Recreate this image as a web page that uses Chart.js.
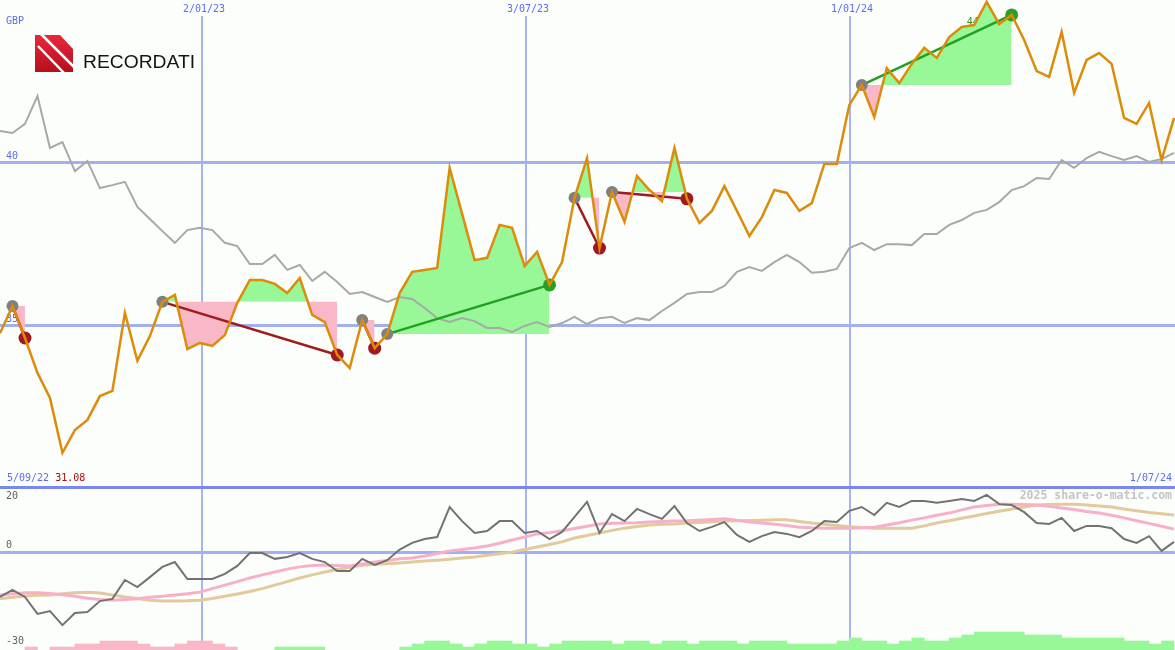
<!DOCTYPE html>
<html>
<head>
<meta charset="utf-8">
<script src="https://cdn.jsdelivr.net/npm/chart.js@4.4.1/dist/chart.umd.min.js"></script>
<style>
html, body { margin: 0; padding: 0; background: #fcfefc; }
#wrap { width: 1175px; height: 650px; }
</style>
</head>
<body>
<div id="wrap"><canvas id="chart" width="1175" height="650"></canvas></div>
<script>
// weekly closes (GBP), one point per week from 5/09/22
const price = [34.75,35.58,34.60,33.53,32.76,31.08,31.78,32.09,32.82,32.98,
  35.37,33.90,34.66,35.71,35.92,34.26,34.45,34.36,34.69,35.68,
  36.38,36.38,36.26,35.98,36.44,35.31,35.09,34.08,33.68,35.15,
  34.29,34.72,35.98,36.63,36.69,36.75,39.82,38.41,36.99,37.06,
  38.07,37.98,36.81,37.24,36.23,36.93,38.90,40.12,37.36,39.08,
  38.16,39.57,39.14,38.80,40.43,38.87,38.13,38.50,39.26,38.50,
  37.73,38.31,39.14,39.05,38.50,38.74,39.94,39.94,41.75,42.36,
  41.38,42.88,42.42,43.01,43.50,43.19,43.83,44.14,44.20,44.91,
  44.23,44.51,43.74,42.79,42.61,43.99,42.12,43.13,43.34,43.01,
  41.35,41.17,41.81,40.06,41.35];

// comparison index, rebased to the price scale
const indexLine = [40.95,40.89,41.17,42.02,40.43,40.61,39.72,40.03,39.20,39.29,
  39.39,38.62,38.25,37.88,37.52,37.91,37.98,37.91,37.52,37.42,
  36.87,36.87,37.15,36.69,36.84,36.35,36.63,36.32,35.95,36.01,
  35.86,35.71,35.86,35.80,35.52,35.21,35.09,35.21,35.12,34.91,
  34.91,34.79,34.97,35.09,34.94,35.06,35.25,35.03,35.21,35.25,
  35.06,35.21,35.15,35.43,35.68,35.95,36.01,36.01,36.20,36.63,
  36.78,36.66,36.93,37.15,36.93,36.60,36.63,36.72,37.36,37.52,
  37.30,37.48,37.48,37.45,37.79,37.79,38.07,38.22,38.44,38.53,
  38.77,39.14,39.26,39.51,39.48,40.06,39.82,40.12,40.31,40.18,
  40.06,40.18,40.00,40.09,40.28];

// lower panel oscillator and its two averages
const osc = [-14.2,-12.0,-14.2,-19.5,-18.6,-23.0,-19.2,-18.9,-15.5,-14.8,
  -8.9,-11.1,-8.0,-4.8,-3.3,-8.6,-8.6,-8.6,-7.0,-4.5,
  -0.5,-0.5,-2.3,-1.7,-0.5,-2.3,-3.3,-6.1,-6.1,-2.3,
  -4.2,-2.7,0.6,2.7,3.9,4.5,13.9,9.5,5.8,6.4,
  9.5,9.5,5.8,6.4,3.9,6.1,10.8,15.5,5.8,11.7,
  9.5,13.3,11.7,10.2,14.2,8.9,6.4,7.7,9.2,5.2,
  3.0,4.8,6.1,5.5,4.5,6.4,9.5,9.2,12.7,13.9,
  11.4,15.2,13.9,15.8,15.8,15.2,15.8,16.4,15.8,17.7,
  14.8,14.5,12.3,8.9,8.6,10.5,6.4,8.0,8.0,7.3,
  3.9,2.7,4.8,0.2,3.0];
const oscFast = [-13.6,-13.2,-12.9,-12.9,-13.1,-13.5,-14.0,-14.6,-15.0,-15.2,
  -15.0,-14.8,-14.3,-14.0,-13.6,-13.2,-12.7,-11.6,-10.5,-9.4,
  -8.3,-7.3,-6.4,-5.5,-4.8,-4.4,-4.2,-4.4,-4.5,-3.9,
  -3.3,-2.8,-2.3,-2.0,-1.4,-0.6,0.2,0.6,1.1,1.7,
  2.6,3.6,4.5,5.5,5.9,6.5,7.2,7.9,8.6,8.8,
  8.9,9.0,9.2,9.4,9.5,9.6,9.8,10.0,10.2,9.8,
  9.2,8.9,8.5,8.1,7.6,7.4,7.3,7.3,7.3,7.4,
  7.6,8.3,9.0,9.8,10.5,11.3,12.0,13.0,13.9,14.4,
  14.8,14.8,14.7,14.5,14.1,13.6,13.1,12.5,12.0,11.3,
  10.5,9.6,8.8,7.9,7.0];
const oscSlow = [-14.8,-14.3,-13.9,-13.7,-13.6,-13.2,-12.9,-12.7,-13.0,-13.6,
  -14.2,-14.7,-15.2,-15.5,-15.5,-15.4,-15.2,-14.7,-14.0,-13.3,
  -12.5,-11.6,-10.5,-9.4,-8.3,-7.3,-6.4,-5.6,-4.9,-4.3,
  -4.0,-3.8,-3.6,-3.3,-3.0,-2.7,-2.4,-2.0,-1.7,-1.2,
  -0.7,-0.2,0.6,1.4,2.2,3.0,4.2,5.0,5.8,6.6,
  7.3,7.8,8.3,8.5,8.6,8.9,9.1,9.3,9.5,9.6,
  9.7,9.8,9.9,9.9,9.4,8.9,8.5,8.1,7.7,7.5,
  7.3,7.3,7.3,7.3,8.0,8.9,9.6,10.4,11.1,11.9,
  12.6,13.3,13.9,14.5,14.7,14.8,14.8,14.5,14.2,13.9,
  13.3,12.7,12.2,11.8,11.4];

// strip at the bottom: negative = pink, positive = green (one per week gap)
const volLevel = [0,0,-1,0,-1,-1,-2,-2,-3,-3,-3,-2,-1,-1,-2,-3,-3,-2,-1,0,
  0,0,1,1,1,1,0,0,0,0,0,0,1,2,3,3,2,1,2,3,
  3,2,2,1,2,3,3,3,3,2,3,3,2,3,3,2,3,3,3,2,
  3,3,3,2,2,2,2,3,4,3,3,2,3,4,3,3,4,5,6,6,
  6,6,5,5,5,4,4,4,4,4,3,3,2,3];

// trades: week index of entry and exit
const tradeEntry = [1, 13, 29, 31, 46, 49, 69];
const tradeExit  = [2, 27, 30, 44, 48, 55, 81];

const dateLabels = ['2/01/23', '3/07/23', '1/01/24'];
const dateWeeks = [16.17, 42.11, 68.05];
const firstDate = '5/09/22';
const lastDate = '1/07/24';
const priceGrid = [40, 35];
const oscTicks = [20, 0, -30];

const pts = (arr) => arr.map((v, i) => ({ x: i, y: v }));
const mono = '10px "DejaVu Sans Mono", monospace';

const GREEN_FILL = '#98f898';
const PINK_FILL = '#f8b8c8';

const datasets = [];

// price line on top
datasets.push({
  type: 'line', yAxisID: 'yP', order: 0,
  data: pts(price),
  borderColor: '#dc8c0a', borderWidth: 2.5, pointRadius: 0, tension: 0
});

// trade markers
const markData = [], markColor = [], markRadius = [];
tradeEntry.forEach((e) => {
  markData.push({ x: e, y: price[e] }); markColor.push('#808080'); markRadius.push(6);
});
tradeExit.forEach((x1, k) => {
  const win = price[x1] > price[tradeEntry[k]];
  markData.push({ x: x1, y: price[x1] }); markColor.push(win ? '#28a028' : '#a01820'); markRadius.push(6.5);
});
datasets.push({
  type: 'line', yAxisID: 'yP', order: 1, showLine: false,
  data: markData,
  pointBackgroundColor: markColor, pointBorderWidth: 0, pointRadius: markRadius
});

// trade lines and fills
tradeEntry.forEach((e, k) => {
  const x1 = tradeExit[k];
  const p0 = price[e], p1 = price[x1];
  datasets.push({
    type: 'line', yAxisID: 'yP', order: 2,
    data: [{ x: e, y: p0 }, { x: x1, y: p1 }],
    borderColor: p1 > p0 ? '#22a022' : '#a01c1c', borderWidth: 2.5, pointRadius: 0
  });
  datasets.push({
    type: 'line', yAxisID: 'yP', order: 7,
    data: pts(price).slice(e, x1 + 1),
    borderColor: 'rgba(0,0,0,0)', borderWidth: 0, pointRadius: 0, tension: 0,
    fill: { target: { value: p0 }, above: GREEN_FILL, below: PINK_FILL }
  });
});

// oscillator panel
datasets.push({ type: 'line', yAxisID: 'yO', order: 3, data: pts(osc),
  borderColor: '#727272', borderWidth: 2, pointRadius: 0, tension: 0 });
datasets.push({ type: 'line', yAxisID: 'yO', order: 4, data: pts(oscFast),
  borderColor: '#f8b0c8', borderWidth: 3, pointRadius: 0, tension: 0 });
datasets.push({ type: 'line', yAxisID: 'yO', order: 5, data: pts(oscSlow),
  borderColor: '#e2ca9a', borderWidth: 3, pointRadius: 0, tension: 0 });

// comparison index
datasets.push({ type: 'line', yAxisID: 'yP', order: 6, data: pts(indexLine),
  borderColor: '#a8a8a8', borderWidth: 2, pointRadius: 0, tension: 0 });

// bottom strip
const downBars = [], upBars = [];
volLevel.forEach((v, j) => {
  if (v < 0) downBars.push({ x: j + 0.5, y: -v });
  if (v > 0) upBars.push({ x: j + 0.5, y: v });
});
[[downBars, PINK_FILL], [upBars, GREEN_FILL]].forEach(([d, c]) => {
  datasets.push({
    type: 'bar', yAxisID: 'yV', order: 8, data: d,
    backgroundColor: c, borderWidth: 0, grouped: false,
    barPercentage: 1, categoryPercentage: 1
  });
});

function drawLogo(ctx) {
  ctx.save();
  const g = ctx.createLinearGradient(0, 35, 0, 72);
  g.addColorStop(0, '#e8283a');
  g.addColorStop(1, '#b50f1e');
  ctx.beginPath();
  ctx.moveTo(35, 35); ctx.lineTo(60, 35); ctx.lineTo(73, 49);
  ctx.lineTo(73, 72); ctx.lineTo(35, 72); ctx.closePath();
  ctx.fillStyle = g;
  ctx.fill();
  ctx.strokeStyle = '#fcfefc';
  ctx.lineWidth = 2.5;
  ctx.beginPath(); ctx.moveTo(40, 33); ctx.lineTo(76, 69); ctx.stroke();
  ctx.beginPath(); ctx.moveTo(38, 46); ctx.lineTo(65, 74); ctx.stroke();
  ctx.beginPath(); ctx.moveTo(62, 33); ctx.lineTo(76, 47); ctx.stroke();
  ctx.fillStyle = '#141414';
  ctx.font = '18px "Liberation Sans", Arial, sans-serif';
  ctx.textBaseline = 'alphabetic';
  const w = ctx.measureText('RECORDATI').width;
  ctx.translate(83, 68);
  ctx.scale(112 / w, 1);
  ctx.fillText('RECORDATI', 0, 0);
  ctx.restore();
}

function text(ctx, s, x, y, color, align, font) {
  ctx.fillStyle = color;
  ctx.textAlign = align || 'left';
  ctx.font = font || mono;
  ctx.fillText(s, x, y);
}

const paper = {
  id: 'paper',
  beforeDraw(chart) {
    const ctx = chart.ctx;
    ctx.save();
    ctx.fillStyle = '#fcfefc';
    ctx.fillRect(0, 0, chart.width, chart.height);
    ctx.restore();
  },
  beforeDatasetsDraw(chart) {
    const { ctx } = chart;
    const { x, yP, yO } = chart.scales;
    const W = chart.width, H = chart.height;
    const hline = (py) => { ctx.beginPath(); ctx.moveTo(0, py); ctx.lineTo(W, py); ctx.stroke(); };
    ctx.save();

    ctx.strokeStyle = '#a6b3f2';
    ctx.lineWidth = 2;
    dateWeeks.forEach((w) => {
      const px = Math.round(x.getPixelForValue(w));
      ctx.beginPath(); ctx.moveTo(px, 16); ctx.lineTo(px, H); ctx.stroke();
    });

    ctx.strokeStyle = '#a2b0f0';
    ctx.lineWidth = 3;
    priceGrid.forEach((v) => hline(Math.round(yP.getPixelForValue(v)) + 0.5));
    hline(Math.round(yO.getPixelForValue(0)) + 0.5);
    ctx.strokeStyle = '#7a88ee';
    const sepY = Math.round(yO.getPixelForValue(oscTicks[0]) - 0.5) + 0.5;
    hline(sepY);

    ctx.textBaseline = 'middle';
    const blue = '#5a6cf0';
    text(ctx, 'GBP', 6, 21, blue);
    priceGrid.forEach((v) => text(ctx, String(v), 6, yP.getPixelForValue(v) - 6, blue));
    dateLabels.forEach((s, k) => text(ctx, s, Math.round(x.getPixelForValue(dateWeeks[k])) - 19, 9, blue));

    const lowText = Math.min(...price).toFixed(2);
    text(ctx, firstDate, 7, sepY - 9, blue);
    ctx.font = mono;
    text(ctx, lowText, 7 + ctx.measureText(firstDate + ' ').width, sepY - 9, '#a01010');
    text(ctx, lastDate, 1172, sepY - 9, blue, 'right');

    oscTicks.forEach((v, k) => {
      const py = yO.getPixelForValue(v);
      text(ctx, String(v), 6, k === 0 ? py + 9 : py - 6, '#606060');
    });
    text(ctx, '2025 share-o-matic.com', 1172, 496, '#c4c4c4', 'right',
      'bold 11.5px "DejaVu Sans Mono", monospace');

    const hi = Math.max(...price);
    const hiIdx = price.indexOf(hi);
    text(ctx, hi.toFixed(2), x.getPixelForValue(hiIdx) - 20, 22, '#229922');

    drawLogo(ctx);
    ctx.restore();
  }
};

new Chart(document.getElementById('chart').getContext('2d'), {
  data: { datasets },
  options: {
    responsive: false,
    animation: false,
    devicePixelRatio: 1,
    events: [],
    layout: { padding: 0, autoPadding: false },
    plugins: { legend: { display: false }, tooltip: { enabled: false } },
    scales: {
      x: { type: 'linear', min: 0, max: 1175 / 12.49, offset: false, display: false },
      yP: { type: 'linear', min: 25.03, max: 44.969, display: false },
      yO: { type: 'linear', min: -30.78, max: 172.34, display: false },
      yV: { type: 'linear', min: 0, max: 650 / 3, display: false }
    }
  },
  plugins: [paper]
});
</script>
</body>
</html>
